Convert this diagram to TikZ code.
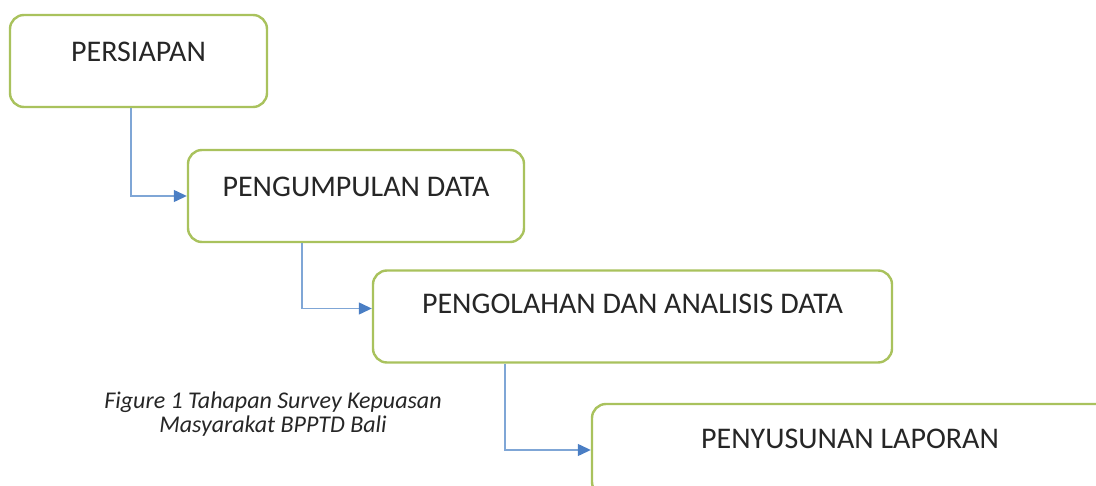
\documentclass[tikz,border=0pt]{standalone}
\usepackage{fontspec}
\setmainfont{Carlito}
\usetikzlibrary{arrows.meta}

\definecolor{boxgreen}{HTML}{A9C25D}
\definecolor{flowblue}{HTML}{7FA6D6}
\definecolor{tipblue}{HTML}{4A7EC4}
\definecolor{textgray}{HTML}{262626}

\begin{document}
\begin{tikzpicture}[x=1pt, y=1pt,
    stage/.style={draw=boxgreen, line width=2.4pt, rounded corners=14pt, fill=white, minimum height=92pt, inner sep=0pt},
    stagetext/.style={text=textgray, font=\fontsize{30}{34}\selectfont, inner sep=0pt},
    flow/.style={draw=flowblue, line width=1.3pt, -{Triangle[length=13pt, width=12pt, color=tipblue]}}]
    \useasboundingbox (0,0) rectangle (1096,-486);
    \clip (0,0) rectangle (1096,-486);
    \node[stage, minimum width=257pt] (p1) at (138.5, -61) {};
    \node[stage, minimum width=336pt] (p2) at (356, -196) {};
    \node[stage, minimum width=519pt] (p3) at (632.5, -316.5) {};
    \node[stage, minimum width=520pt] (p4) at (852, -450) {};
    \node[stagetext] (t1) at ([yshift=-38pt]p1.north) {PERSIAPAN};
    \node[stagetext] (t2) at ([yshift=-38pt]p2.north) {PENGUMPULAN DATA};
    \node[stagetext] (t3) at ([yshift=-35pt]p3.north) {PENGOLAHAN DAN ANALISIS DATA};
    \node[stagetext] (t4) at ([xshift=-2pt, yshift=-36pt]p4.north) {PENYUSUNAN LAPORAN};
    \draw[flow] ([xshift=-7.5pt]p1.south) |- (p2.west);
    \draw[flow] ([xshift=-54pt]p2.south) |- ([yshift=8pt]p3.west);
    \draw[flow] ([xshift=-127.5pt]p3.south) |- (p4.west);
    \node[text=textgray, font=\fontsize{24}{24}\selectfont\itshape, align=center] (caption) at (273, -414) {Figure 1 Tahapan Survey Kepuasan\\Masyarakat BPPTD Bali};
\end{tikzpicture}
\end{document}
